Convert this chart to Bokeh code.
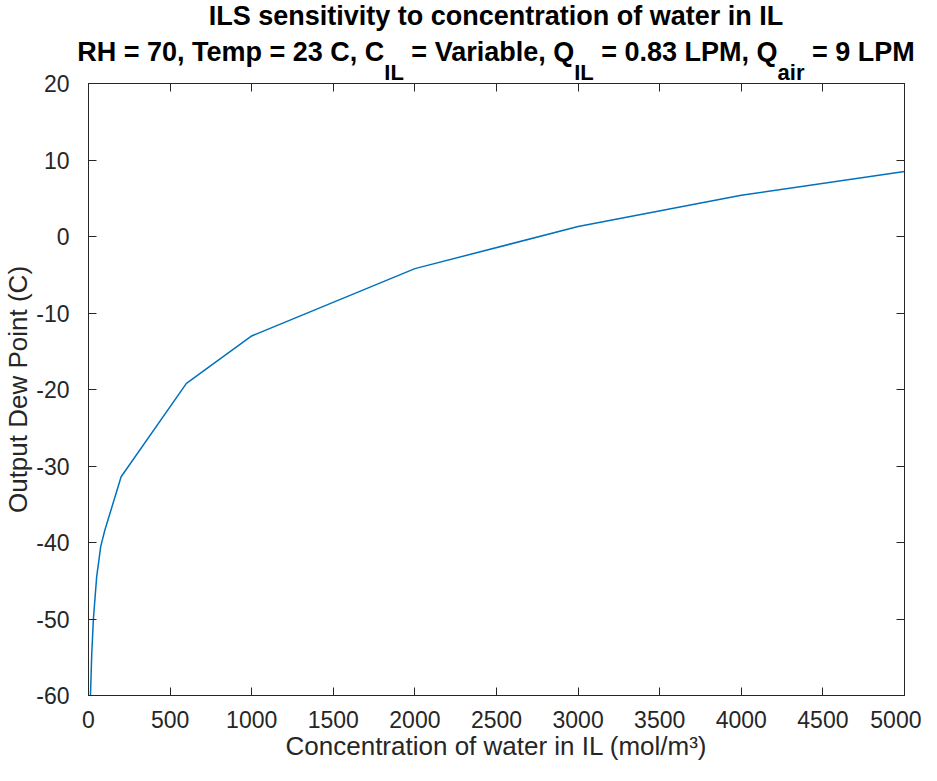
from bokeh.plotting import figure
from bokeh.layouts import column
from bokeh.models import Range1d, LinearAxis, FixedTicker, ColumnDataSource, Div
from bokeh.embed import file_html
from bokeh.resources import INLINE

# ---- data ----
conc = [12, 20, 30, 50, 75, 100, 200, 600, 1000, 2000, 3000, 4000, 5000]
dew_point = [-60, -54.5, -50, -44.5, -40.5, -38.4, -31.4, -19.2, -13.0, -4.2, 1.3, 5.4, 8.5]

x_ticks = [0, 500, 1000, 1500, 2000, 2500, 3000, 3500, 4000, 4500, 5000]
y_ticks = [-60, -50, -40, -30, -20, -10, 0, 10, 20]
y_tick_labels = ["-60", "-50", "-40", "-30", "-20", "-10", "0", "10", "20"]
x_min, x_max = 0, 5000
y_min, y_max = -60, 20

title_line1 = "ILS sensitivity to concentration of water in IL"
# (text, is_subscript)
title_line2 = [
    ("RH = 70, Temp = 23 C, C", False),
    ("IL", True),
    (" = Variable, Q", False),
    ("IL", True),
    (" = 0.83 LPM, Q", False),
    ("air", True),
    (" = 9 LPM", False),
]
x_label = "Concentration of water in IL (mol/m\u00b3)"
y_label = "Output Dew Point (C)"

# ---- layout / style ----
FONT = "Liberation Sans"
AX_COLOR = "#262626"
LINE_COLOR = "#0072BD"
TITLE_SIZE = 27
SUB_SIZE = 22
SUB_DROP = 19

W, H = 921, 765
TITLE_H = 81
OVERLAP = 13          # plot canvas slides under the title block (transparent border)
FRAME_L, FRAME_R = 88, 904
FRAME_T, FRAME_B = 83, 695

# ---------------- title (HTML, real text) ----------------
center = (FRAME_L + FRAME_R) / 2


def esc(s):
    return s.replace("&", "&amp;").replace("<", "&lt;").replace(">", "&gt;").replace(" ", "&nbsp;")


line2_html = "".join(
    (f'<span style="position:relative;top:{SUB_DROP}px;font-size:{SUB_SIZE}px;">{esc(s)}</span>'
     if sub else esc(s))
    for s, sub in title_line2)

line_style = (f"position:absolute;left:0px;width:{2 * center}px;text-align:center;"
              f"white-space:nowrap;line-height:{TITLE_SIZE}px;font-size:{TITLE_SIZE}px;")
title_html = (
    f'<div style="position:relative;width:{W}px;height:{TITLE_H}px;overflow:visible;'
    f"font-family:'{FONT}',Arial,sans-serif;font-weight:bold;color:#000000;\">"
    f'<div style="{line_style}top:3px;">{esc(title_line1)}</div>'
    f'<div style="{line_style}top:39px;">{line2_html}</div>'
    f"</div>"
)
title_div = Div(text=title_html, width=W, height=TITLE_H, margin=(0, 0, 0, 0))

# ---------------- main figure ----------------
canvas_top = TITLE_H - OVERLAP
PH = H - canvas_top
p = figure(width=W, height=PH,
           x_range=Range1d(x_min, x_max), y_range=Range1d(y_min, y_max),
           output_backend="svg", toolbar_location=None,
           min_border_left=FRAME_L, min_border_right=W - FRAME_R,
           min_border_top=FRAME_T - canvas_top, min_border_bottom=H - FRAME_B)
p.margin = (-OVERLAP, 0, 0, 0)

p.grid.visible = False
p.outline_line_color = AX_COLOR
p.outline_line_width = 1
p.background_fill_color = "white"
p.border_fill_color = None

src = ColumnDataSource(dict(x=conc, y=dew_point))
p.line("x", "y", source=src, line_color=LINE_COLOR, line_width=1.5)

for ax, ticks in ((p.xaxis[0], x_ticks), (p.yaxis[0], y_ticks)):
    ax.ticker = FixedTicker(ticks=ticks)
    ax.major_tick_in = 8
    ax.major_tick_out = 0
    ax.minor_tick_in = 0
    ax.minor_tick_out = 0
    ax.axis_line_color = AX_COLOR
    ax.major_tick_line_color = AX_COLOR
    ax.major_label_text_font = FONT
    ax.major_label_text_font_size = "23px"
    ax.major_label_text_color = AX_COLOR
    ax.axis_label_text_font = FONT
    ax.axis_label_text_font_size = "26px"
    ax.axis_label_text_font_style = "normal"
    ax.axis_label_text_color = AX_COLOR

p.yaxis.major_label_overrides = dict(zip(y_ticks, y_tick_labels))
p.xaxis.axis_label = x_label
p.yaxis.axis_label = y_label
p.xaxis.major_label_standoff = 15
p.xaxis.axis_label_standoff = 0
p.yaxis.major_label_standoff = 19
p.yaxis.axis_label_standoff = 0

# mirrored axes (ticks only) on top and right
for loc, ticks in (("above", x_ticks), ("right", y_ticks)):
    ax = LinearAxis(ticker=FixedTicker(ticks=ticks),
                    major_tick_in=8, major_tick_out=0, minor_tick_in=0, minor_tick_out=0,
                    axis_line_color=AX_COLOR, major_tick_line_color=AX_COLOR,
                    major_label_overrides={tk: "" for tk in ticks},
                    major_label_standoff=0, major_label_text_font_size="1px")
    p.add_layout(ax, loc)

layout = column(title_div, p, spacing=0)
open("out.html", "w").write(file_html(layout, INLINE))
